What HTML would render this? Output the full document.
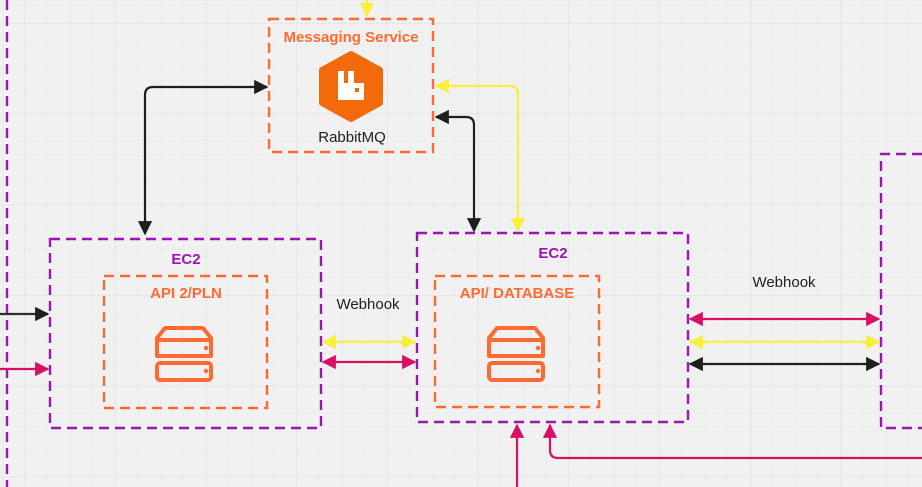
<!DOCTYPE html>
<html><head><meta charset="utf-8"><style>
html,body{margin:0;padding:0;background:#f1f1f1;}
svg{display:block;font-family:"Liberation Sans",sans-serif;}
</style></head><body>
<svg width="922" height="487" viewBox="0 0 922 487" xmlns="http://www.w3.org/2000/svg">
<defs>
<pattern id="minor" width="22.67" height="22.67" patternUnits="userSpaceOnUse" x="24.5" y="23">
<path d="M0 0H22.67M0 0V22.67" stroke="#e9e9e9" stroke-width="1" fill="none"/></pattern>
<pattern id="major" width="90.7" height="90.7" patternUnits="userSpaceOnUse" x="24.5" y="23">
<path d="M0 0H90.7M0 0V90.7" stroke="#e0e0e0" stroke-width="1.3" fill="none"/></pattern>
<marker id="ab" viewBox="0 0 10 10" refX="9" refY="5" markerWidth="6.5" markerHeight="6.5" orient="auto-start-reverse" markerUnits="strokeWidth"><path d="M0 0L10 5L0 10z" fill="#1e1e1e"/></marker>
<marker id="ay" viewBox="0 0 10 10" refX="9" refY="5" markerWidth="6.5" markerHeight="6.5" orient="auto-start-reverse" markerUnits="strokeWidth"><path d="M0 0L10 5L0 10z" fill="#f7ef3c"/></marker>
<marker id="ap" viewBox="0 0 10 10" refX="9" refY="5" markerWidth="6.5" markerHeight="6.5" orient="auto-start-reverse" markerUnits="strokeWidth"><path d="M0 0L10 5L0 10z" fill="#d80f62"/></marker>
</defs>
<rect width="922" height="487" fill="#f1f1f1"/>
<rect width="922" height="487" fill="url(#minor)"/>
<rect width="922" height="487" fill="url(#major)"/>

<g fill="none" stroke-dasharray="10 6" stroke-width="2.4">
<line x1="7" y1="0" x2="7" y2="487" stroke="#9b15b0"/>
<rect x="50" y="239" width="271" height="189" stroke="#9b15b0"/>
<rect x="417" y="233" width="271" height="189" stroke="#9b15b0"/>
<path d="M922 154H881V428H922" stroke="#9b15b0"/>
<rect x="269" y="19" width="164" height="133" stroke="#ff6a33"/>
<rect x="104" y="276" width="163" height="132" stroke="#ff6a33"/>
<rect x="435" y="276" width="164" height="131" stroke="#ff6a33"/>
</g>

<g font-weight="bold" font-size="15" text-anchor="middle">
<text x="351" y="42" fill="#ff6a33">Messaging Service</text>
<text x="186" y="264" fill="#9b15b0">EC2</text>
<text x="553" y="258" fill="#9b15b0">EC2</text>
<text x="186" y="298" fill="#ff6a33">API 2/PLN</text>
<text x="517" y="298" fill="#ff6a33">API/ DATABASE</text>
</g>
<g font-size="15" text-anchor="middle" fill="#1e1e1e">
<text x="352" y="142">RabbitMQ</text>
<text x="368" y="309">Webhook</text>
<text x="784" y="287">Webhook</text>
</g>

<polygon points="351,54 380,70 380,103 351,119 322,103 322,70" fill="#f26a0a" stroke="#f26a0a" stroke-width="6" stroke-linejoin="round"/>
<path d="M338 71h6v12h4v-12h6v12h10v17h-26z" fill="#fff"/>
<rect x="355" y="88" width="4" height="4" fill="#f26a0a"/>

<g fill="none" stroke="#ff6a33" stroke-width="4" stroke-linejoin="round">
<path d="M157 356v-18l8-10h38l8 10v18z"/><line x1="157" y1="340" x2="211" y2="340"/>
<rect x="157" y="363" width="54" height="17" rx="3"/>
<path d="M489 356v-18l8-10h38l8 10v18z"/><line x1="489" y1="340" x2="543" y2="340"/>
<rect x="489" y="363" width="54" height="17" rx="3"/>
</g>
<g fill="#ff6a33"><circle cx="206" cy="348" r="2.2"/><circle cx="206" cy="371" r="2.2"/><circle cx="538" cy="348" r="2.2"/><circle cx="538" cy="371" r="2.2"/></g>

<g fill="none" stroke-width="2.2">
<line x1="367" y1="0" x2="367" y2="16" stroke="#f7ef3c" marker-end="url(#ay)"/>
<path d="M145 234V95q0-8 8-8H267" stroke="#1e1e1e" marker-start="url(#ab)" marker-end="url(#ab)"/>
<path d="M436 117H466q8 0 8 8V231" stroke="#1e1e1e" marker-start="url(#ab)" marker-end="url(#ab)"/>
<path d="M436 86H510q8 0 8 8V231" stroke="#f7ef3c" marker-start="url(#ay)" marker-end="url(#ay)"/>
<line x1="0" y1="314" x2="48" y2="314" stroke="#2e2e2e" marker-end="url(#ab)"/>
<line x1="0" y1="369" x2="48" y2="369" stroke="#d80f62" marker-end="url(#ap)"/>
<line x1="323" y1="342" x2="415" y2="342" stroke="#f7ef3c" marker-start="url(#ay)" marker-end="url(#ay)"/>
<line x1="323" y1="362" x2="415" y2="362" stroke="#d80f62" marker-start="url(#ap)" marker-end="url(#ap)"/>
<line x1="690" y1="319" x2="879" y2="319" stroke="#d80f62" marker-start="url(#ap)" marker-end="url(#ap)"/>
<line x1="690" y1="342" x2="879" y2="342" stroke="#f7ef3c" marker-start="url(#ay)" marker-end="url(#ay)"/>
<line x1="690" y1="364" x2="879" y2="364" stroke="#1e1e1e" marker-start="url(#ab)" marker-end="url(#ab)"/>
<line x1="517" y1="487" x2="517" y2="425" stroke="#d80f62" marker-end="url(#ap)"/>
<path d="M922 458H558q-8 0-8-8V425" stroke="#d80f62" marker-end="url(#ap)"/>
</g>
</svg>
</body></html>
